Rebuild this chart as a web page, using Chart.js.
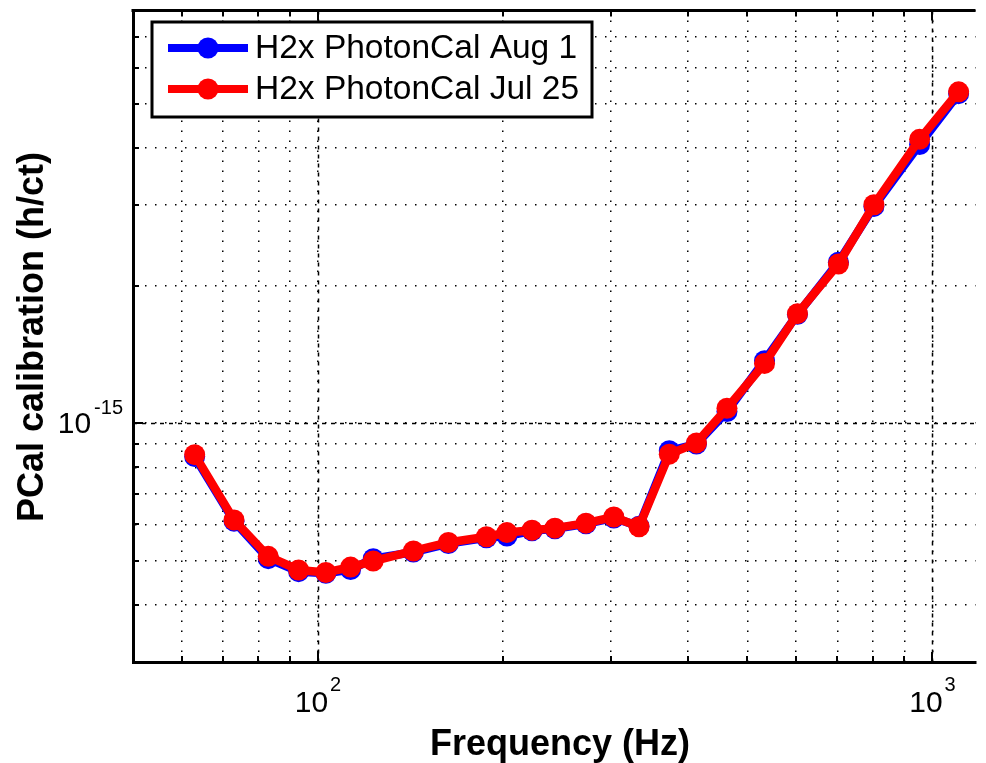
<!DOCTYPE html>
<html>
<head>
<meta charset="utf-8">
<script src="https://cdn.jsdelivr.net/npm/chart.js@4.4.0/dist/chart.umd.min.js"></script>
<style>
html, body { margin: 0; padding: 0; background: #fff; overflow: hidden; }
</style>
</head>
<body>
<canvas id="pcal" width="986" height="763"></canvas>
<script>
// measurement frequencies (Hz)
var freqs = [63, 73, 83, 93, 103, 113, 123, 143, 163, 188, 203, 223, 243,
             273, 303, 333, 373, 413, 463, 533, 603, 703, 803, 953, 1103];

// PCal calibration (h/ct)
var aug1 = [0.845e-15, 0.610e-15, 0.505e-15, 0.473e-15, 0.469e-15, 0.478e-15, 0.505e-15,
            0.522e-15, 0.545e-15, 0.561e-15, 0.566e-15, 0.581e-15, 0.587e-15, 0.602e-15,
            0.620e-15, 0.595e-15, 0.870e-15, 0.900e-15, 1.060e-15, 1.370e-15, 1.730e-15,
            2.250e-15, 2.980e-15, 4.070e-15, 5.260e-15];
var jul25 = [0.853e-15, 0.614e-15, 0.511e-15, 0.477e-15, 0.471e-15, 0.484e-15, 0.499e-15,
             0.525e-15, 0.548e-15, 0.564e-15, 0.576e-15, 0.583e-15, 0.589e-15, 0.604e-15,
             0.623e-15, 0.593e-15, 0.855e-15, 0.905e-15, 1.078e-15, 1.351e-15, 1.736e-15,
             2.230e-15, 3.006e-15, 4.180e-15, 5.310e-15];

var seriesLabels = ["H2x PhotonCal Aug 1", "H2x PhotonCal Jul 25"];

// grid / tick positions
var xGridTicks = [50, 60, 70, 80, 90, 100, 200, 300, 400, 500, 600, 700, 800, 900, 1000];
var yGridTicks = [3e-16, 4e-16, 5e-16, 6e-16, 7e-16, 8e-16, 9e-16, 1e-15,
                  2e-15, 3e-15, 4e-15, 5e-15, 6e-15, 7e-15, 8e-15];

// labelled decades
var xLabelValues = [100, 1000];
var xLabelExps = ["2", "3"];
var yLabelValues = [1e-15];
var yLabelExps = ["-15"];

function isDecade(v) {
    var l = Math.log10(v);
    return Math.abs(l - Math.round(l)) < 1e-9;
}

function toPoints(ys) {
    return freqs.map(function(f, i) { return {x: f, y: ys[i]}; });
}

var matlabAxes = {
    id: 'matlabAxes',
    beforeDatasetsDraw: function(chart) {
        var ctx = chart.ctx, a = chart.chartArea;
        var xs = chart.scales.x, ys = chart.scales.y;
        ctx.save();
        ctx.strokeStyle = '#000';
        ctx.lineWidth = 1.5;
        ctx.setLineDash([4, 5]);
        xGridTicks.filter(isDecade).forEach(function(v) {
            var px = Math.round(xs.getPixelForValue(v)) + 0.5;
            ctx.beginPath(); ctx.moveTo(px, a.top); ctx.lineTo(px, a.bottom); ctx.stroke();
        });
        yGridTicks.filter(isDecade).forEach(function(v) {
            var py = Math.round(ys.getPixelForValue(v)) + 0.5;
            ctx.beginPath(); ctx.moveTo(a.left, py); ctx.lineTo(a.right, py); ctx.stroke();
        });
        ctx.restore();
    },
    afterDraw: function(chart) {
        var ctx = chart.ctx, a = chart.chartArea;
        var xs = chart.scales.x, ys = chart.scales.y;
        ctx.save();

        // top axis line
        ctx.strokeStyle = '#000';
        ctx.lineWidth = 3;
        ctx.beginPath(); ctx.moveTo(a.left - 1.5, a.top); ctx.lineTo(a.right, a.top); ctx.stroke();

        // inward ticks
        ctx.lineWidth = 2;
        xGridTicks.forEach(function(v) {
            if (v === xGridTicks[0]) return;
            var px = Math.round(xs.getPixelForValue(v));
            var len = isDecade(v) ? 10 : 6;
            ctx.beginPath(); ctx.moveTo(px, a.bottom); ctx.lineTo(px, a.bottom - len); ctx.stroke();
            ctx.beginPath(); ctx.moveTo(px, a.top); ctx.lineTo(px, a.top + len); ctx.stroke();
        });
        yGridTicks.forEach(function(v, i) {
            if (i === 0 || i === yGridTicks.length - 1) return;
            var py = Math.round(ys.getPixelForValue(v));
            var len = isDecade(v) ? 10 : 6;
            ctx.beginPath(); ctx.moveTo(a.left, py); ctx.lineTo(a.left + len, py); ctx.stroke();
        });

        // tick labels with exponents
        var baseFont = '30px "Liberation Sans", Arial, sans-serif';
        var expFont = '20px "Liberation Sans", Arial, sans-serif';
        ctx.fillStyle = '#000';
        ctx.textBaseline = 'alphabetic';
        ctx.textAlign = 'left';
        xLabelValues.forEach(function(v, i) {
            var px = xs.getPixelForValue(v);
            ctx.font = baseFont;
            var wb = ctx.measureText("10").width;
            ctx.font = expFont;
            var we = ctx.measureText(xLabelExps[i]).width;
            var x0 = px - (wb + we + 2) / 2;
            ctx.font = baseFont;
            ctx.fillText("10", x0, 712);
            ctx.font = expFont;
            ctx.fillText(xLabelExps[i], x0 + wb + 2, 691);
        });
        yLabelValues.forEach(function(v, i) {
            var py = ys.getPixelForValue(v);
            ctx.font = expFont;
            var we = ctx.measureText(yLabelExps[i]).width;
            var xr = a.left - 10;
            ctx.fillText(yLabelExps[i], xr - we, py - 9);
            ctx.font = baseFont;
            var wb = ctx.measureText("10").width;
            ctx.fillText("10", xr - we - 3 - wb, py + 10);
        });

        // axis titles
        ctx.font = 'bold 36px "Liberation Sans", Arial, sans-serif';
        ctx.textAlign = 'center';
        ctx.fillText("Frequency (Hz)", 560, 755);
        ctx.save();
        ctx.translate(43, 337);
        ctx.rotate(-Math.PI / 2);
        ctx.fillText("PCal calibration (h/ct)", 0, 0);
        ctx.restore();

        // legend
        var lx = 152, ly = 22, lw = 440, lh = 95;
        ctx.fillStyle = '#fff';
        ctx.fillRect(lx, ly, lw, lh);
        ctx.strokeStyle = '#000';
        ctx.lineWidth = 3;
        ctx.strokeRect(lx, ly, lw, lh);
        var rows = [48, 89];
        chart.data.datasets.forEach(function(ds, i) {
            var ry = rows[i];
            ctx.strokeStyle = ds.borderColor;
            ctx.lineWidth = 8;
            ctx.beginPath(); ctx.moveTo(168, ry); ctx.lineTo(248, ry); ctx.stroke();
            ctx.fillStyle = ds.pointBackgroundColor;
            ctx.beginPath(); ctx.arc(208, ry, 10.5, 0, Math.PI * 2); ctx.fill();
            ctx.fillStyle = '#000';
            ctx.font = '33.5px "Liberation Sans", Arial, sans-serif';
            ctx.textAlign = 'left';
            ctx.textBaseline = 'middle';
            ctx.fillText(ds.label, 255, ry + 1);
        });
        ctx.restore();
    }
};

var ctx = document.getElementById("pcal").getContext("2d");

var pcalChart = new Chart(ctx, {
    type: 'line',
    data: {
        datasets: [
            {
                label: seriesLabels[0],
                data: toPoints(aug1),
                borderColor: "#0000ff",
                backgroundColor: "#0000ff",
                pointBackgroundColor: "#0000ff",
                pointBorderColor: "#0000ff",
                borderWidth: 8.5,
                pointRadius: 10.5,
                pointBorderWidth: 0,
                fill: false,
                tension: 0,
                order: 1
            },
            {
                label: seriesLabels[1],
                data: toPoints(jul25),
                borderColor: "#ff0000",
                backgroundColor: "#ff0000",
                pointBackgroundColor: "#ff0000",
                pointBorderColor: "#ff0000",
                borderWidth: 8.5,
                pointRadius: 10.5,
                pointBorderWidth: 0,
                fill: false,
                tension: 0,
                order: 0
            }
        ]
    },
    options: {
        responsive: false,
        animation: false,
        devicePixelRatio: 1,
        layout: { padding: { top: 6, left: 0, right: 0, bottom: 0 } },
        plugins: {
            legend: { display: false },
            tooltip: { enabled: false }
        },
        scales: {
            x: {
                type: 'logarithmic',
                min: 50,
                max: 1175,
                afterBuildTicks: function(s) { s.ticks = xGridTicks.map(function(v) { return {value: v}; }); },
                afterFit: function(s) { s.height = 101; },
                ticks: { display: false },
                grid: { color: '#000', lineWidth: 1.5, drawTicks: false },
                border: { display: true, color: '#000', width: 3, dash: [1.5, 8.5] }
            },
            y: {
                type: 'logarithmic',
                min: 3e-16,
                max: 8e-15,
                afterBuildTicks: function(s) { s.ticks = yGridTicks.map(function(v) { return {value: v}; }); },
                afterFit: function(s) { s.width = 133; },
                ticks: { display: false },
                grid: { color: '#000', lineWidth: 1.5, drawTicks: false },
                border: { display: true, color: '#000', width: 3, dash: [1.5, 8.5] }
            }
        }
    },
    plugins: [matlabAxes]
});
</script>
</body>
</html>
